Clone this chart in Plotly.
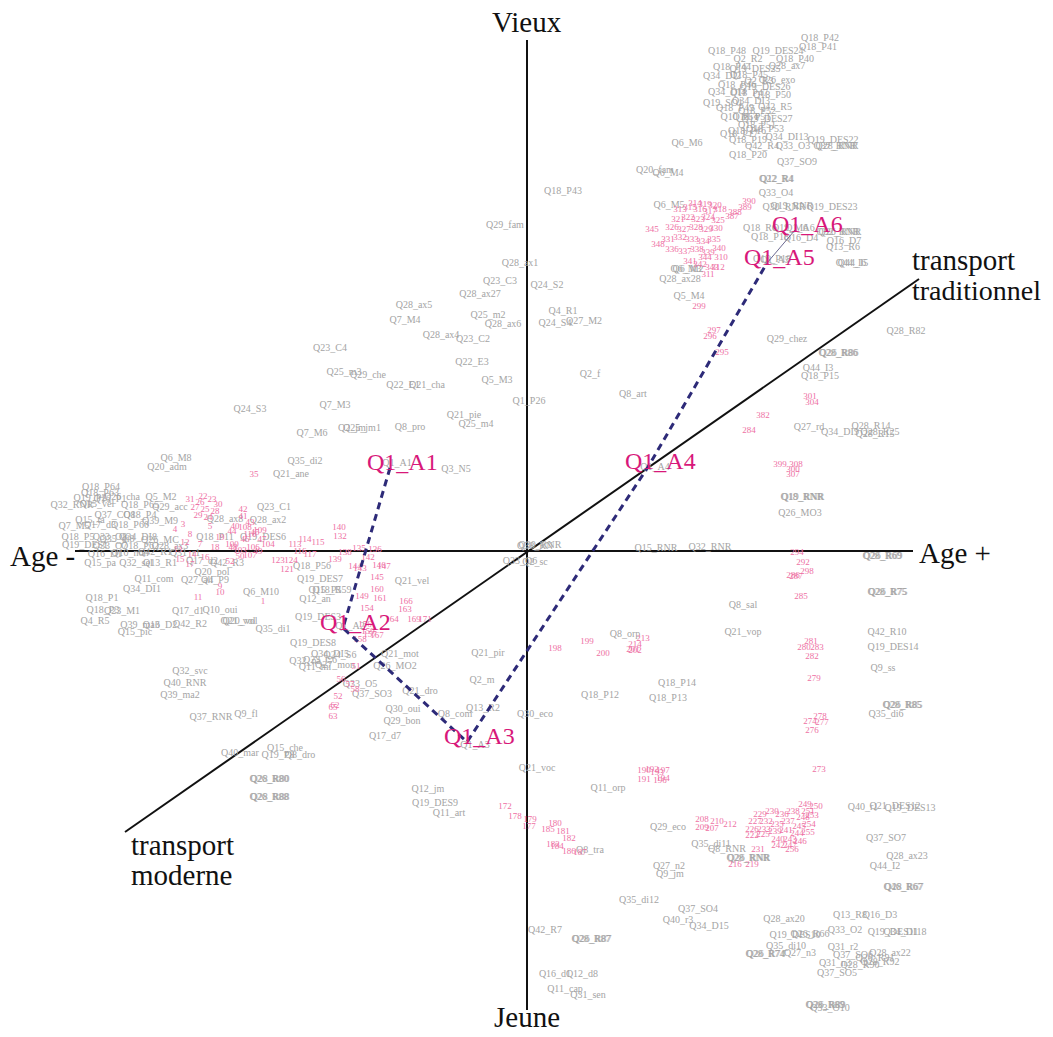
import plotly.graph_objects as go

# factor map coordinates (F1 horizontal, F2 vertical), one unit ~ one pixel of the source

# axes of the map
axis_f1 = [-452, 386]
axis_f2 = [511, -459]
diag_f1 = [-402, 392]
diag_f2 = [-281, 272]

# Q1 modalities, linked in order
q1_text = ["Q1_A1", "Q1_A2", "Q1_A3", "Q1_A4", "Q1_A5", "Q1_A6"]
q1_x = [-137, -184, -60, 121, 240, 268]
q1_y = [83, -77, -191, 84, 288, 321]

# grey variable labels
grey_top = [
    ("Q18_P42", 293, 513), ("Q18_P41", 291, 504), ("Q18_P48", 200, 500), ("Q19_DES24", 251, 500),
    ("Q2_R2", 221, 492), ("Q18_P40", 268, 492), ("Q28_ax7", 260, 485), ("Q18_P44", 205, 484),
    ("Q19_DES25", 228, 482), ("Q34_DI2", 195, 475), ("Q18_P45", 222, 476), ("Q26_exo", 250, 471),
    ("Q2_R3", 232, 470), ("Q18_P46", 210, 466), ("Q19_DES26", 238, 464), ("Q34_DI4", 200, 459),
    ("Q18_P47", 222, 458), ("Q18_P50", 245, 456), ("Q19_SO1", 196, 448), ("Q34_DI3", 224, 450),
    ("Q42_R5", 248, 444), ("Q18_P49", 208, 443), ("Q18_P52", 230, 440), ("Q10_P5T", 213, 434),
    ("Q18_P5T", 225, 434), ("Q19_DES27", 240, 432), ("Q18_P51", 230, 426), ("Q18_P53", 238, 422),
    ("Q18_P16", 220, 420), ("Q18_P17", 212, 417), ("Q18_P19", 221, 411), ("Q34_DI13", 260, 414),
    ("Q19_DES22", 306, 411), ("Q42_R4", 235, 405), ("Q33_O3", 266, 405), ("Q37_RNR", 308, 405),
    ("Q28_RNR", 310, 405), ("Q18_P20", 221, 396), ("Q37_SO9", 270, 389), ("Q6_M6", 160, 408),
    ("Q20_fam", 128, 381), ("Q6_M4", 141, 378), ("Q22_R4", 249, 372), ("Q12_R4", 250, 372),
    ("Q33_O4", 249, 358),
]
grey_upper_right = [
    ("Q6_M5", 142, 346), ("Q30_RNR", 257, 344), ("Q19_RNR", 265, 345), ("Q19_DES23", 305, 344),
    ("Q18_R6", 233, 323), ("Q19_M6", 263, 323), ("Q18_P18", 243, 314), ("Q16_D4", 274, 313),
    ("Q32_RNR", 311, 319), ("Q26_RNR", 313, 319), ("Q16_D7", 317, 310), ("Q13_R6", 316, 304),
    ("Q44_I6", 324, 288), ("Q44_I5", 326, 288), ("Q15_P18", 245, 292), ("Q6_M3", 159, 282),
    ("Q6_M2", 161, 282), ("Q28_ax28", 153, 272), ("Q5_M4", 162, 255),
]
grey_upper_mid = [
    ("Q18_P43", 36, 360), ("Q29_fam", -22, 326), ("Q28_ax1", -7, 288), ("Q23_C3", -27, 270),
    ("Q24_S2", 20, 266), ("Q28_ax27", -47, 257), ("Q28_ax5", -113, 246), ("Q25_m2", -39, 236),
    ("Q4_R1", 36, 240), ("Q7_M4", -122, 231), ("Q28_ax6", -24, 227), ("Q24_S4", 28, 228),
    ("Q27_M2", 57, 230), ("Q28_ax4", -86, 216), ("Q23_C2", -54, 212), ("Q23_C4", -197, 203),
    ("Q22_E3", -55, 189), ("Q25_m3", -183, 179), ("Q29_che", -159, 176), ("Q22_E1", -124, 166),
    ("Q21_cha", -100, 166), ("Q5_M3", -30, 171), ("Q2_f", 63, 177), ("Q8_art", 106, 157),
    ("Q1_P26", 2, 150), ("Q7_M3", -192, 146), ("Q21_pie", -63, 136), ("Q25_m4", -51, 127),
    ("Q8_pro", -117, 124), ("Q7_M6", -215, 118), ("Q2_jm", -175, 123), ("Q25_jm1", -165, 123),
    ("Q35_di2", -222, 90), ("Q21_ane", -236, 77), ("Q3_N5", -71, 82), ("Q24_S3", -277, 142),
    ("Q6_M8", -351, 93), ("Q20_adm", -360, 84), ("Q23_C1", -253, 44), ("Q28_ax2", -259, 31),
]
grey_left = [
    ("Q18_P64", -426, 64), ("Q18_P63", -427, 58), ("Q19_P2", -437, 53), ("Q16_P1", -417, 52),
    ("Q26_cha", -405, 54), ("Q5_M2", -366, 54), ("Q32_RNR", -455, 46), ("Q15_vel", -430, 47),
    ("Q18_P65", -387, 46), ("Q29_acc", -357, 44), ("Q15_ta", -437, 31), ("Q37_CO8", -412, 36),
    ("Q18_P4", -387, 36), ("Q39_M9", -367, 30), ("Q7_M5", -453, 25), ("Q17_d3", -427, 26),
    ("Q18_P60", -397, 26), ("Q18_P5", -449, 14), ("Q33_O8", -417, 14), ("Q35_di8", -410, 12),
    ("Q34_DI8", -389, 14), ("Q26_MC", -367, 11), ("Q19_DES1", -442, 6), ("Q33_O7", -417, 5),
    ("Q18_P62", -387, 5), ("Q28_ax3", -357, 5), ("Q16_D1", -422, -3), ("Q10_non", -397, -2),
    ("Q42_R1", -372, -1), ("Q31_r1", -342, -2), ("Q15_pa", -427, -12), ("Q32_sel", -391, -12),
    ("Q13_R1", -367, -12), ("Q11_com", -373, -28), ("Q20_pol", -315, -21), ("Q27_ali", -330, -29),
    ("Q4_P9", -312, -29), ("Q34_DI1", -385, -38), ("Q18_P1", -425, -47), ("Q6_M10", -266, -41),
    ("Q18_P3", -424, -59), ("Q23_M1", -405, -60), ("Q17_d1", -339, -60), ("Q10_oui", -307, -59),
    ("Q4_R5", -432, -70), ("Q39_ma3", -387, -74), ("Q16_D2", -367, -74), ("Q42_R2", -337, -73),
    ("Q21_vol", -289, -70), ("Q20_vol", -287, -70), ("Q15_pic", -392, -81), ("Q35_di1", -254, -78),
    ("Q18_P11", -312, 14), ("Q19_DES6", -264, 14), ("Q28_ax8", -302, 32), ("Q17_d2", -325, -10),
    ("Q42_R3", -300, -12),
]
grey_lower_left = [
    ("Q18_P56", -215, -15), ("Q19_DES7", -207, -28), ("Q18_R59", -195, -39), ("Q15_P5", -202, -39),
    ("Q12_an", -212, -48), ("Q21_vel", -115, -30), ("Q19_DES3", -209, -66), ("Q19_DES8", -214, -92),
    ("Q34_DI5", -197, -103), ("Q24_S6", -187, -104), ("Q32_na", -222, -110), ("Q23_C6", -207, -109),
    ("Q11_mi", -212, -116), ("Q27_mon", -192, -114), ("Q21_mot", -127, -103), ("Q26_MO2", -132, -115),
    ("Q33_O5", -167, -133), ("Q37_SO3", -155, -143), ("Q21_dro", -107, -140), ("Q30_oui", -124, -158),
    ("Q29_bon", -125, -170), ("Q8_com", -72, -163), ("Q13_R2", -44, -157), ("Q30_eco", 8, -163),
    ("Q21_pir", -39, -102), ("Q2_m", -45, -129), ("Q17_d7", -142, -185), ("Q32_svc", -337, -120),
    ("Q40_RNR", -342, -132), ("Q39_ma2", -347, -144), ("Q37_RNR", -316, -166), ("Q9_fl", -281, -163),
    ("Q40_mar", -287, -202), ("Q15_che", -242, -197), ("Q19_P8", -249, -204), ("Q8_dro", -227, -204),
    ("Q28_R80", -257, -228), ("Q26_R80", -258, -228), ("Q28_R88", -257, -246), ("Q26_R88", -258, -246),
    ("Q12_jm", -99, -238), ("Q19_DES9", -92, -252), ("Q11_art", -78, -262), ("Q21_voc", 10, -217),
    ("Q11_orp", 81, -237), ("Q8_tra", 63, -299), ("Q42_R7", 18, -379), ("Q28_R87", 64, -388),
    ("Q26_R87", 65, -388), ("Q16_d1", 28, -423), ("Q12_d8", 55, -423), ("Q11_cap", 38, -438),
    ("Q31_sen", 61, -444),
]
grey_lower_right = [
    ("Q29_eco", 141, -276), ("Q35_di11", 184, -293), ("Q8_RNR", 200, -298), ("Q28_RNR", 221, -307),
    ("Q26_RNR", 222, -307), ("Q27_n2", 142, -315), ("Q9_jm", 143, -323), ("Q35_di12", 112, -349),
    ("Q37_SO4", 171, -358), ("Q40_r3", 151, -369), ("Q34_D15", 182, -375), ("Q28_ax20", 257, -368),
    ("Q13_R8", 323, -364), ("Q16_D3", 353, -364), ("Q19_DES10", 268, -384), ("Q26_R66", 283, -383),
    ("Q33_O2", 318, -379), ("Q19_DES11", 366, -381), ("Q34_DI18", 378, -381), ("Q35_di10", 259, -395),
    ("Q28_R74", 238, -403), ("Q26_R74", 239, -403), ("Q27_n3", 273, -402), ("Q31_r2", 316, -396),
    ("Q37_SO6", 326, -404), ("Q28_ax22", 363, -402), ("Q26_R91", 348, -407), ("Q28_R92", 353, -411),
    ("Q31_n3", 308, -412), ("Q28_R90", 333, -414), ("Q37_SO5", 310, -422), ("Q28_R89", 298, -454),
    ("Q26_R89", 299, -454), ("Q33_O10", 303, -457), ("Q40_r1", 336, -256), ("Q21_DES12", 368, -255),
    ("Q19_DES13", 383, -257), ("Q37_SO7", 359, -287), ("Q28_ax23", 380, -305), ("Q44_I2", 358, -315),
    ("Q46_R67", 376, -336), ("Q28_R67", 377, -336),
]
grey_right = [
    ("Q28_R82", 379, 220), ("Q29_chez", 260, 212), ("Q28_R86", 311, 198), ("Q26_R86", 312, 198),
    ("Q44_I3", 291, 183), ("Q18_P15", 293, 175), ("Q27_rd", 282, 124), ("Q34_DI9", 313, 119),
    ("Q28_R14", 344, 125), ("Q28_R15", 348, 117), ("Q28_R25", 353, 119), ("Q18_RNR", 275, 54),
    ("Q19_RNR", 276, 54), ("Q26_MO3", 273, 38), ("Q28_R69", 355, -5), ("Q26_R69", 356, -5),
    ("Q28_R75", 360, -41), ("Q26_R75", 361, -41), ("Q8_sal", 216, -54), ("Q21_vop", 216, -81),
    ("Q42_R10", 360, -81), ("Q19_DES14", 366, -96), ("Q9_ss", 356, -117), ("Q28_R85", 375, -154),
    ("Q26_R85", 376, -154), ("Q35_di6", 359, -163), ("Q18_P14", 150, -132), ("Q18_P12", 73, -144),
    ("Q18_P13", 141, -147), ("Q8_orp", 98, -83), ("Q15_RNR", 129, 3), ("Q32_RNR", 183, 4),
    ("Q30_RNR", 13, 6), ("Q38_RN", 8, 5), ("Q33_O6", -7, -10), ("Q2_sc", 8, -11),
]
grey_q1 = [
    ("Q1_A1", -130, 88), ("Q1_A2", -177, -75), ("Q1_A3", -52, -194), ("Q1_A4", 128, 84),
    ("Q1_A5", 248, 291), ("Q1_A6", 273, 323),
]

# pink individual numbers
pink_left = [
    ("22", -324, 54), ("26", -327, 48), ("23", -315, 51), ("27", -332, 43), ("25", -322, 41),
    ("28", -312, 39), ("29", -329, 35), ("24", -319, 33), ("30", -309, 46), ("31", -337, 51),
    ("3", -344, 26), ("5", -317, 24), ("4", -352, 21), ("8", -337, 16), ("12", -342, 8),
    ("7", -327, 6), ("13", -349, 1), ("14", -335, -4), ("15", -347, -9), ("16", -322, -7),
    ("17", -337, -14), ("18", -312, 3), ("19", -307, 13), ("42", -284, 41), ("41", -284, 34),
    ("43", -277, 28), ("40", -292, 24), ("44", -295, 19), ("45", -272, 18), ("46", -282, 11),
    ("47", -265, 11), ("48", -294, 3), ("49", -269, -1), ("50", -287, -6), ("52", -297, -11),
    ("100", -295, 6), ("103", -287, 0), ("106", -274, 3), ("107", -277, -5), ("108", -282, 23),
    ("109", -267, 20), ("110", -277, 16), ("104", -259, 6), ("113", -232, 6), ("114", -222, 11),
    ("115", -209, 8), ("116", -227, -1), ("117", -217, -4), ("123", -249, -10), ("124", -236, -10),
    ("121", -240, -19), ("140", -188, 23), ("132", -187, 14), ("139", -192, -9), ("138", -182, -2),
    ("11", -329, -47), ("10", -307, -42), ("9", -307, -36), ("1", -264, -51), ("35", -273, 76),
]
pink_mid = [
    ("135", -168, 2), ("136", -152, 1), ("142", -159, -7), ("144", -172, -16), ("143", -167, -18),
    ("147", -143, -16), ("146", -148, -15), ("145", -150, -27), ("160", -150, -39), ("149", -165, -46),
    ("161", -147, -48), ("154", -160, -58), ("166", -121, -51), ("163", -122, -59), ("169", -113, -69),
    ("171", -102, -69), ("164", -135, -69), ("156", -162, -74), ("157", -157, -84), ("158", -167, -89),
    ("159", -159, -81), ("167", -150, -85), ("51", -171, -116), ("56", -186, -129), ("57", -177, -134),
    ("58", -172, -139), ("52", -189, -146), ("62", -192, -155), ("65", -194, -157), ("63", -194, -166),
    ("198", 28, -98), ("199", 60, -91), ("200", 76, -103), ("213", 116, -88), ("214", 108, -94),
    ("202", 108, -100), ("201", 106, -99), ("190", 117, -220), ("192", 125, -219), ("193", 130, -222),
    ("197", 136, -220), ("191", 117, -229), ("194", 136, -228), ("196", 133, -230),
    ("172", -22, -256), ("178", -12, -266), ("179", 3, -269), ("177", 2, -276), ("180", 28, -273),
    ("185", 21, -279), ("181", 36, -281), ("182", 42, -288), ("184", 30, -296), ("183", 26, -294),
    ("186", 42, -301), ("187", 53, -302),
]
pink_upper_right = [
    ("313", 153, 341), ("315", 163, 343), ("316", 173, 341), ("317", 183, 339), ("318", 193, 341),
    ("319", 178, 346), ("320", 188, 345), ("314", 168, 347), ("321", 151, 331), ("322", 161, 333),
    ("323", 171, 331), ("324", 181, 333), ("325", 191, 330), ("326", 145, 323), ("327", 157, 321),
    ("328", 169, 323), ("329", 179, 321), ("330", 189, 322), ("345", 125, 321), ("348", 131, 306),
    ("331", 141, 311), ("332", 153, 313), ("333", 165, 311), ("334", 176, 309), ("335", 187, 311),
    ("336", 145, 301), ("337", 158, 299), ("338", 170, 301), ("339", 181, 298), ("340", 192, 302),
    ("341", 163, 289), ("342", 173, 286), ("343", 185, 283), ("344", 178, 293), ("390", 222, 349),
    ("389", 218, 343), ("388", 208, 338), ("387", 205, 334), ("310", 194, 293), ("312", 191, 283),
    ("311", 181, 276), ("299", 172, 244), ("297", 187, 220), ("296", 183, 214), ("295", 195, 198),
]
pink_right = [
    ("301", 283, 154), ("304", 285, 148), ("382", 236, 135), ("284", 222, 120), ("399", 253, 86),
    ("308", 269, 86), ("300", 266, 81), ("307", 266, 76), ("294", 270, -2), ("292", 276, -12),
    ("298", 280, -21), ("286", 266, -25), ("287", 269, -26), ("285", 274, -46), ("281", 284, -91),
    ("280", 277, -97), ("283", 290, -97), ("282", 285, -106), ("279", 287, -128), ("278", 293, -166),
    ("274", 283, -171), ("277", 295, -172), ("276", 285, -180), ("273", 292, -219),
]
pink_lower_right = [
    ("208", 175, -269), ("210", 190, -271), ("212", 203, -274), ("209", 175, -277), ("207", 185, -278),
    ("231", 231, -299), ("216", 208, -314), ("219", 225, -314), ("249", 278, -254), ("250", 289, -256),
    ("251", 281, -261), ("229", 233, -264), ("230", 245, -261), ("236", 255, -264), ("238", 266, -261),
    ("248", 276, -267), ("253", 285, -265), ("227", 228, -271), ("232", 239, -271), ("235", 250, -274),
    ("237", 261, -271), ("245", 272, -276), ("254", 282, -274), ("226", 225, -279), ("233", 237, -279),
    ("239", 248, -281), ("241", 259, -280), ("244", 270, -283), ("255", 281, -282), ("222", 225, -285),
    ("225", 236, -284), ("240", 251, -289), ("243", 263, -289), ("246", 273, -291), ("247", 263, -295),
    ("242", 251, -295), ("256", 265, -299),
]

grey_labels = (grey_top + grey_upper_right + grey_upper_mid + grey_left + grey_lower_left
               + grey_lower_right + grey_right + grey_q1)
pink_labels = pink_left + pink_mid + pink_upper_right + pink_right + pink_lower_right

SERIF = "Liberation Serif, Times New Roman, serif"

fig = go.Figure()

# axes
fig.add_trace(go.Scatter(x=axis_f1, y=[0, 0], mode="lines",
                         line=dict(color="#111111", width=2), hoverinfo="skip"))
fig.add_trace(go.Scatter(x=[0, 0], y=axis_f2, mode="lines",
                         line=dict(color="#111111", width=2), hoverinfo="skip"))
fig.add_trace(go.Scatter(x=diag_f1, y=diag_f2, mode="lines",
                         line=dict(color="#111111", width=2), hoverinfo="skip"))

# variable labels
fig.add_trace(go.Scatter(
    x=[l[1] for l in grey_labels], y=[l[2] for l in grey_labels],
    text=[l[0] for l in grey_labels], mode="text",
    textfont=dict(family=SERIF, size=10, color="#a4a4a4"), hoverinfo="skip"))
fig.add_trace(go.Scatter(
    x=[l[1] for l in pink_labels], y=[l[2] for l in pink_labels],
    text=[l[0] for l in pink_labels], mode="text",
    textfont=dict(family=SERIF, size=9, color="#ee70a4"), hoverinfo="skip"))

# Q1 trajectory
fig.add_trace(go.Scatter(x=q1_x[:5], y=q1_y[:5], mode="lines",
                         line=dict(color="#2d2a78", width=3, dash="7px,5px"), hoverinfo="skip"))
fig.add_trace(go.Scatter(x=q1_x[4:], y=q1_y[4:], mode="lines",
                         line=dict(color="#6b6890", width=1), hoverinfo="skip"))

for t, x, y in zip(q1_text, q1_x, q1_y):
    fig.add_annotation(x=x, y=y, text=t, showarrow=False, xshift=12, yshift=6,
                       font=dict(family=SERIF, size=24, color="#d8187a"))

# axis titles
big = dict(family=SERIF, size=29, color="#111111")
fig.add_annotation(x=0, y=529, text="Vieux", showarrow=False, font=big)
fig.add_annotation(x=0, y=-466, text="Jeune", showarrow=False, font=big)
fig.add_annotation(x=-485, y=-5, text="Age -", showarrow=False, font=big)
fig.add_annotation(x=428, y=-2, text="Age +", showarrow=False, font=big)
fig.add_annotation(x=383, y=291, text="transport", showarrow=False, xanchor="left", font=big)
fig.add_annotation(x=383, y=261, text="traditionnel", showarrow=False, xanchor="left",
                   font=dict(family=SERIF, size=28, color="#111111"))
fig.add_annotation(x=-398, y=-294, text="transport", showarrow=False, xanchor="left", font=big)
fig.add_annotation(x=-398, y=-324, text="moderne", showarrow=False, xanchor="left", font=big)

# the page body adds an 8px margin, so the figure covers page pixels 8..1045 / 8..1029
fig.update_layout(
    width=1037, height=1021,
    margin=dict(l=0, r=0, t=0, b=0),
    plot_bgcolor="white", paper_bgcolor="white",
    showlegend=False,
    xaxis=dict(range=[-519, 518], visible=False, showgrid=False, zeroline=False),
    yaxis=dict(range=[-478, 543], visible=False, showgrid=False, zeroline=False),
)

fig.write_html("out.html")
